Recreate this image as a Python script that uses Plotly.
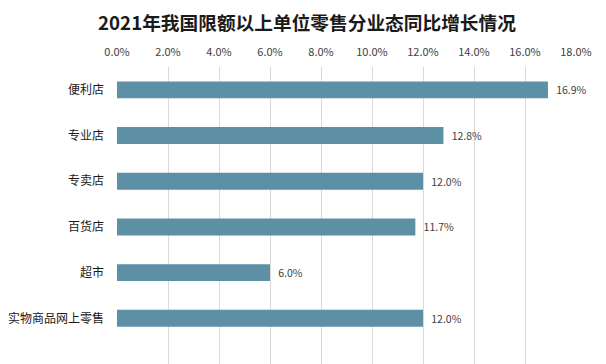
import plotly.graph_objects as go

categories = ["便利店", "专业店", "专卖店", "百货店", "超市", "实物商品网上零售"]
values = [16.9, 12.8, 12.0, 11.7, 6.0, 12.0]
tick_vals = [0, 2, 4, 6, 8, 10, 12, 14, 16, 18]
tick_text = ["0.0%", "2.0%", "4.0%", "6.0%", "8.0%", "10.0%", "12.0%", "14.0%", "16.0%", "18.0%"]
title_text = "2021年我国限额以上单位零售分业态同比增长情况"

font_family = "Noto Sans CJK SC, Microsoft YaHei, sans-serif"

# page body has an 8px default margin; figure is sized to fill the remaining window
W, H = 598, 356

fig = go.Figure(go.Bar(
    x=values,
    y=categories,
    orientation="h",
    marker=dict(color="#5E90A5", line=dict(width=0)),
    width=0.37,
    text=["\u2002" + f"{v:.1f}%" for v in values],
    textposition="outside",
    textfont=dict(size=10.5, color="#404040", family=font_family),
    cliponaxis=False,
    hoverinfo="skip",
))

fig.update_layout(
    width=W,
    height=H,
    margin=dict(l=109, r=30, t=59, b=0),
    paper_bgcolor="white",
    plot_bgcolor="white",
    showlegend=False,
    title=dict(
        text="<b>" + title_text + "</b>",
        x=0.5, xanchor="center",
        y=1 - 15 / H, yanchor="middle",
        font=dict(size=18.7, color="#1a1a1a", family=font_family),
    ),
    xaxis=dict(
        side="top",
        range=[0, 18],
        tickvals=tick_vals,
        ticktext=tick_text,
        showgrid=True,
        gridcolor="#D9D9D9",
        gridwidth=1,
        zeroline=False,
        showline=False,
        ticks="",
        automargin=False,
        ticklabelstandoff=8,
        tickfont=dict(size=11, color="#404040", family=font_family),
    ),
    yaxis=dict(
        type="category",
        categoryorder="array",
        categoryarray=categories,
        range=[6.0, -0.5],
        showgrid=False,
        zeroline=False,
        showline=False,
        ticks="",
        automargin=False,
        ticklabelstandoff=12,
        tickfont=dict(size=12, color="#1a1a1a", family=font_family),
    ),
)

fig.write_html("out.html")
